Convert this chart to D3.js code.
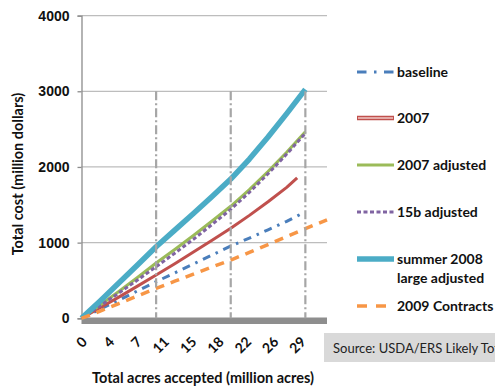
<!DOCTYPE html>
<html>
<head>
<meta charset="utf-8">
<script src="https://cdn.jsdelivr.net/npm/d3@7"></script>
<style>
  html, body { margin: 0; padding: 0; background: #fff; }
  svg { display: block; font-family: Lato, "Open Sans", sans-serif; }
</style>
</head>
<body>
<svg id="chart" width="495" height="387"></svg>
<script>
// Cost curves: cumulative cost (million dollars) against acres accepted (million acres)
const acresStd      = [0, 2.5, 5, 7.5, 10, 12.5, 15, 17.5, 20, 22.5, 25, 27.5, 30];
const acresBaseline = [0, 2.5, 5, 7.5, 10, 12.5, 15, 17.5, 20, 22.5, 25, 27.5, 29.6];
const acres2007     = [0, 2.5, 5, 7.5, 10, 12.5, 15, 17.5, 20, 22.5, 25, 27.5, 28.9];
const acresContract = [0, 2.5, 5, 7.5, 10, 12.5, 15, 17.5, 20, 22.5, 25, 27.5, 30, 32.9];

const costBaseline   = [0, 120, 240, 362, 484, 600, 718, 836, 955, 1060, 1170, 1280, 1387];
const cost2007       = [0, 140, 280, 425, 572, 720, 875, 1030, 1189, 1360, 1540, 1730, 1857];
const cost2007Adj    = [0, 175, 355, 540, 730, 910, 1095, 1285, 1480, 1700, 1940, 2195, 2465];
const cost15bAdj     = [0, 165, 335, 505, 682, 860, 1045, 1240, 1440, 1665, 1910, 2170, 2445];
const costSummer2008 = [0, 230, 465, 705, 945, 1165, 1385, 1610, 1840, 2105, 2395, 2705, 3025];
const cost2009       = [0, 95, 195, 295, 396, 490, 585, 678, 770, 870, 975, 1080, 1185, 1300];

// Reference markers at 10, 20 and 30 million acres
const markerAcres = [10, 20, 30];
const markerTop = 3000;

const yTicks = [0, 1000, 2000, 3000, 4000];
const xTickValues = [0, 3.67, 7.33, 11, 14.67, 18.33, 22, 25.67, 29.33];
const xTickLabels = ["0", "4", "7", "11", "15", "18", "22", "26", "29"];

const seriesNames = ["baseline", "2007", "2007 adjusted", "15b adjusted", "summer 2008 large adjusted", "2009 Contracts"];

const series = [
  { name: seriesNames[0], x: acresBaseline, y: costBaseline,   color: "#4A7EBB", width: 3,   dash: "8,6,2.5,6" },
  { name: seriesNames[1], x: acres2007,     y: cost2007,       color: "#C0504D", width: 3,   dash: null, double: true },
  { name: seriesNames[2], x: acresStd,      y: cost2007Adj,    color: "#9BBB59", width: 3,   dash: null },
  { name: seriesNames[3], x: acresStd,      y: cost15bAdj,     color: "#8064A2", width: 3,   dash: "4,2.5" },
  { name: seriesNames[4], x: acresStd,      y: costSummer2008, color: "#4BACC6", width: 5.5, dash: null },
  { name: seriesNames[5], x: acresContract, y: cost2009,       color: "#F79646", width: 3.5, dash: "9,7" }
];

const svg = d3.select("#chart");

const x = d3.scaleLinear().domain([0, 32.9]).range([81.5, 327]);
const y = d3.scaleLinear().domain([0, 4000]).range([318.3, 15.6]);

// Horizontal gridlines
svg.append("g")
  .selectAll("line")
  .data(yTicks.filter(d => d > 0))
  .join("line")
  .attr("x1", x.range()[0]).attr("x2", x.range()[1])
  .attr("y1", d => y(d)).attr("y2", d => y(d))
  .attr("stroke", "#BDBDBD").attr("stroke-width", 1.2);

// Y axis
const yAxis = svg.append("g")
  .attr("transform", `translate(${x.range()[0]},0)`)
  .call(d3.axisLeft(y).tickValues(yTicks).tickSize(4).tickPadding(8).tickFormat(d3.format("d")));
yAxis.select(".domain").attr("stroke", "#8C8C8C").attr("stroke-width", 1.3);
yAxis.selectAll(".tick line").attr("stroke", "#8C8C8C").attr("stroke-width", 1.3);
yAxis.selectAll(".tick text")
  .attr("fill", "#111").attr("font-size", 14).attr("font-weight", 700);

// Category axis band along the bottom
svg.append("rect")
  .attr("x", x.range()[0]).attr("y", y(0) - 0.8)
  .attr("width", x.range()[1] - x.range()[0]).attr("height", 6.5)
  .attr("fill", "#8E8E8E");

// X tick labels, rotated
svg.append("g")
  .selectAll("text")
  .data(xTickValues)
  .join("text")
  .attr("transform", d => `translate(${x(d) + 3},${y(0) + 21}) rotate(-45)`)
  .attr("text-anchor", "end")
  .attr("dy", "0.35em")
  .attr("font-size", 14).attr("font-weight", 700).attr("fill", "#111")
  .text((d, i) => xTickLabels[i]);

// Series lines
const line = d3.line().x(d => x(d[0])).y(d => y(d[1]));
const lineG = svg.append("g").attr("fill", "none");
series.forEach(s => {
  const pts = s.x.map((v, i) => [v, s.y[i]]);
  lineG.append("path")
    .attr("d", line(pts))
    .attr("stroke", s.color)
    .attr("stroke-width", s.width)
    .attr("stroke-dasharray", s.dash)
    .attr("stroke-linejoin", "round");
});

// Vertical reference markers
svg.append("g")
  .selectAll("line")
  .data(markerAcres)
  .join("line")
  .attr("x1", d => x(d)).attr("x2", d => x(d))
  .attr("y1", y(markerTop)).attr("y2", y(0))
  .attr("stroke", "#A6A6A6").attr("stroke-width", 2.2)
  .attr("stroke-dasharray", "9,3,2,3");

// Axis titles
svg.append("text")
  .attr("transform", `translate(23,174) rotate(-90)`)
  .attr("text-anchor", "middle")
  .attr("font-size", 14.5).attr("font-weight", 700).attr("fill", "#111")
  .text("Total cost (million dollars)");

svg.append("text")
  .attr("x", 203).attr("y", 383)
  .attr("text-anchor", "middle")
  .attr("font-size", 14.5).attr("font-weight", 700).attr("fill", "#111")
  .text("Total acres accepted (million acres)");

// Legend
const legendY = [72, 118, 165, 212, 259, 306];
const legend = svg.append("g");
series.forEach((s, i) => {
  const g = legend.append("g").attr("transform", `translate(357,${legendY[i]})`);
  if (s.double) {
    g.append("line").attr("x1", 0).attr("x2", 37)
      .attr("stroke", s.color).attr("stroke-width", 4.5);
    g.append("line").attr("x1", 1).attr("x2", 36)
      .attr("stroke", "#F0C8C6").attr("stroke-width", 1.4);
  } else {
    g.append("line").attr("x1", 0).attr("x2", 37)
      .attr("stroke", s.color).attr("stroke-width", s.width)
      .attr("stroke-dasharray", s.name === "baseline" ? "9.5,7.5,2.5,7.5" : (s.name === "2009 Contracts" ? "10,9" : s.dash));
  }
  const words = s.name === "summer 2008 large adjusted" ? ["summer 2008", "large adjusted"] : [s.name];
  words.forEach((w, k) => {
    g.append("text")
      .attr("x", 40).attr("y", k * 19)
      .attr("dy", "0.35em")
      .attr("font-size", 14).attr("font-weight", 700).attr("fill", "#111")
      .text(w);
  });
});

// Source note
svg.append("rect")
  .attr("x", 324).attr("y", 333).attr("width", 180).attr("height", 29)
  .attr("fill", "#D9D9D9");
svg.append("text")
  .attr("x", 333).attr("y", 348).attr("dy", "0.35em")
  .attr("font-size", 13).attr("fill", "#222")
  .text("Source: USDA/ERS Likely Total Costs");
</script>
</body>
</html>
